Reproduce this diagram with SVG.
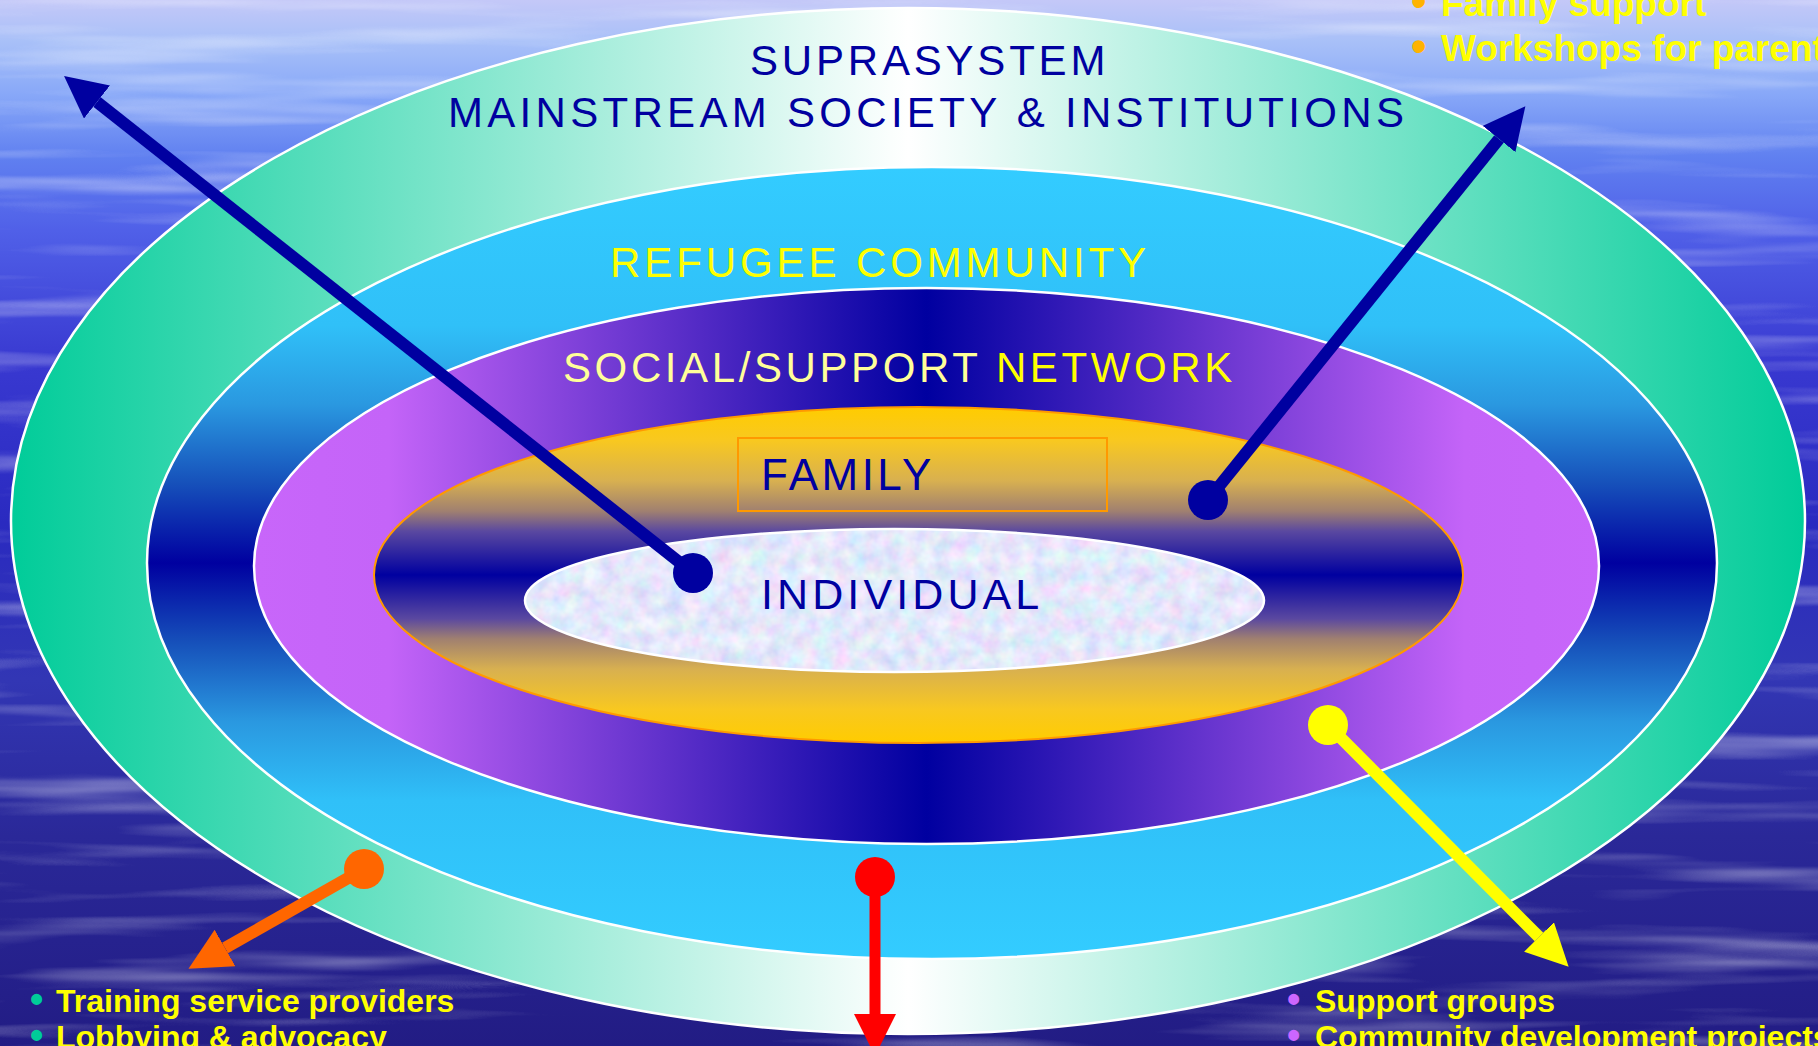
<svg xmlns="http://www.w3.org/2000/svg" width="1818" height="1046" viewBox="0 0 1818 1046">
  <style>
    .ring { stroke: #FFFFFF; stroke-width: 2.5; }
    .lbl { font-family: "Liberation Sans", Arial, sans-serif; }
    .blue { fill: #0000A0; }
    .bul { font-family: "Liberation Sans", Arial, sans-serif; font-weight: bold; fill: #FFFF00; }
    .shaft { fill: none; stroke-width: 12; stroke-linecap: butt; }
  </style>
  <defs>
    <linearGradient id="bg" x1="0" y1="0" x2="0" y2="1">
      <stop offset="0" stop-color="#C4C8F8"/>
      <stop offset="0.04" stop-color="#A8C0F8"/>
      <stop offset="0.09" stop-color="#88A8F8"/>
      <stop offset="0.15" stop-color="#6080F0"/>
      <stop offset="0.22" stop-color="#5060E8"/>
      <stop offset="0.35" stop-color="#3838D0"/>
      <stop offset="0.5" stop-color="#2A2AC0"/>
      <stop offset="0.65" stop-color="#3236B4"/>
      <stop offset="0.8" stop-color="#2A2898"/>
      <stop offset="1" stop-color="#221C84"/>
    </linearGradient>
    <filter id="streaks" x="0" y="0" width="1" height="1">
      <feTurbulence type="fractalNoise" baseFrequency="0.0025 0.04" numOctaves="3" seed="7"/>
      <feColorMatrix type="matrix" values="0 0 0 0 1  0 0 0 0 1  0 0 0 0 1  2.4 0 0 0 -1.2"/>
    </filter>
    <linearGradient id="gOuter" x1="0" y1="0" x2="1" y2="0">
      <stop offset="0" stop-color="#00CC99"/>
      <stop offset="0.5" stop-color="#FFFFFF"/>
      <stop offset="1" stop-color="#00CC99"/>
    </linearGradient>
    <linearGradient id="gRefugee" x1="0" y1="0" x2="0" y2="1">
      <stop offset="0" stop-color="#33CCFF"/>
      <stop offset="0.2" stop-color="#30C0F8"/>
      <stop offset="0.3" stop-color="#2A98E0"/>
      <stop offset="0.4" stop-color="#1650BA"/>
      <stop offset="0.5" stop-color="#0000A0"/>
      <stop offset="0.6" stop-color="#1650BA"/>
      <stop offset="0.7" stop-color="#2A98E0"/>
      <stop offset="0.8" stop-color="#30C0F8"/>
      <stop offset="1" stop-color="#33CCFF"/>
    </linearGradient>
    <linearGradient id="gSocial" x1="0" y1="0" x2="1" y2="0">
      <stop offset="0" stop-color="#C866FA"/>
      <stop offset="0.1" stop-color="#C464F8"/>
      <stop offset="0.5" stop-color="#0000A0"/>
      <stop offset="0.9" stop-color="#C464F8"/>
      <stop offset="1" stop-color="#C866FA"/>
    </linearGradient>
    <linearGradient id="gFamily" x1="0" y1="0" x2="0" y2="1">
      <stop offset="0" stop-color="#FFCC00"/>
      <stop offset="0.1" stop-color="#F8C820"/>
      <stop offset="0.22" stop-color="#D8B050"/>
      <stop offset="0.31" stop-color="#A08070"/>
      <stop offset="0.37" stop-color="#5A48A0"/>
      <stop offset="0.5" stop-color="#0000A0"/>
      <stop offset="0.63" stop-color="#5A48A0"/>
      <stop offset="0.69" stop-color="#A08070"/>
      <stop offset="0.78" stop-color="#D8B050"/>
      <stop offset="0.9" stop-color="#F8C820"/>
      <stop offset="1" stop-color="#FFCC00"/>
    </linearGradient>
    <filter id="tex" x="0" y="0" width="1" height="1">
      <feTurbulence type="fractalNoise" baseFrequency="0.06" numOctaves="3" seed="4"/>
      <feColorMatrix type="matrix" values="0.55 0 0 0 0.5  0 0.45 0 0 0.58  0 0 0.2 0 0.86  0 0 0 0 1"/>
      <feComposite in2="SourceGraphic" operator="in"/>
    </filter>
    <marker id="ahBlue" markerUnits="userSpaceOnUse" markerWidth="42" markerHeight="42" viewBox="0 -21 42 42" refX="0" refY="0" orient="auto">
      <path d="M0,-21 L42,0 L0,21 Z" fill="#0000A0"/>
    </marker>
    <marker id="ahYellow" markerUnits="userSpaceOnUse" markerWidth="42" markerHeight="42" viewBox="0 -21 42 42" refX="0" refY="0" orient="auto">
      <path d="M0,-21 L42,0 L0,21 Z" fill="#FFFF00"/>
    </marker>
    <marker id="ahRed" markerUnits="userSpaceOnUse" markerWidth="42" markerHeight="42" viewBox="0 -21 42 42" refX="0" refY="0" orient="auto">
      <path d="M0,-21 L42,0 L0,21 Z" fill="#FF0000"/>
    </marker>
    <marker id="ahOrange" markerUnits="userSpaceOnUse" markerWidth="42" markerHeight="42" viewBox="0 -21 42 42" refX="0" refY="0" orient="auto">
      <path d="M0,-21 L42,0 L0,21 Z" fill="#FF6600"/>
    </marker>
  </defs>

  <!-- background -->
  <rect x="0" y="0" width="1818" height="1046" fill="url(#bg)"/>
  <rect x="0" y="0" width="1818" height="1046" filter="url(#streaks)" opacity="0.45"/>

  <g id="suprasystem">
    <ellipse class="ring" cx="908" cy="521" rx="897" ry="513" fill="url(#gOuter)"/>
    <text class="lbl blue" x="750" y="75" style="font-size:42px;letter-spacing:3.8px">SUPRASYSTEM</text>
    <text class="lbl blue" x="448" y="127" style="font-size:42px;letter-spacing:4.3px">MAINSTREAM SOCIETY &amp; INSTITUTIONS</text>
  </g>

  <g id="refugee-community">
    <ellipse class="ring" cx="932" cy="563" rx="785" ry="396" fill="url(#gRefugee)"/>
    <text class="lbl" x="610" y="277" fill="#FFFF00" style="font-size:42px;letter-spacing:3.9px">REFUGEE COMMUNITY</text>
  </g>

  <g id="social-support-network">
    <ellipse class="ring" cx="926.5" cy="566" rx="672.5" ry="278" fill="url(#gSocial)"/>
    <text class="lbl" x="563" y="382" style="font-size:42px;letter-spacing:3.6px"><tspan fill="#FFFF99">SOCIAL/SUPPORT </tspan><tspan fill="#FFFF00">NETWORK</tspan></text>
  </g>

  <g id="family">
    <ellipse cx="918.5" cy="575" rx="544.5" ry="168" fill="url(#gFamily)" stroke="#FF9900" stroke-width="2"/>
    <rect x="738" y="438" width="369" height="73" fill="none" stroke="#FF9900" stroke-width="2"/>
    <text class="lbl blue" x="761" y="490" style="font-size:44px;letter-spacing:3.4px">FAMILY</text>
  </g>

  <g id="individual">
    <ellipse cx="894.5" cy="600.5" rx="369.5" ry="71.5" fill="#C4D4F8"/>
    <ellipse cx="894.5" cy="600.5" rx="369.5" ry="71.5" fill="#C4D4F8" filter="url(#tex)"/>
    <ellipse cx="894.5" cy="600.5" rx="369.5" ry="71.5" fill="none" stroke="#FFFFFF" stroke-width="2.5"/>
    <text class="lbl blue" x="761" y="609" style="font-size:43px;letter-spacing:4.1px">INDIVIDUAL</text>
  </g>

  <g id="connectors">
    <path class="shaft" d="M693,573 L97,102" stroke="#0000A0" marker-end="url(#ahBlue)"/>
    <circle cx="693" cy="573" r="20" fill="#0000A0"/>
    <path class="shaft" d="M1208,500 L1499,139" stroke="#0000A0" marker-end="url(#ahBlue)"/>
    <circle cx="1208" cy="500" r="20" fill="#0000A0"/>
    <path class="shaft" d="M1328,725 L1539,937" stroke="#FFFF00" marker-end="url(#ahYellow)"/>
    <circle cx="1328" cy="725" r="20" fill="#FFFF00"/>
    <path class="shaft" d="M875,877 L875,1014" stroke="#FF0000" style="stroke-width:11px" marker-end="url(#ahRed)"/>
    <circle cx="875" cy="877" r="20" fill="#FF0000"/>
    <path class="shaft" d="M364,869 L225,948" stroke="#FF6600" marker-end="url(#ahOrange)"/>
    <circle cx="364" cy="869" r="20" fill="#FF6600"/>
  </g>

  <g id="list-top-right">
    <text class="bul" x="1411" y="16" style="font-size:37px"><tspan fill="#FFB300" style="font-size:44px">•</tspan><tspan x="1441">Family support</tspan></text>
    <text class="bul" x="1411" y="61" style="font-size:37px"><tspan fill="#FFB300" style="font-size:44px">•</tspan><tspan x="1441">Workshops for parents</tspan></text>
  </g>

  <g id="list-bottom-left">
    <text class="bul" x="30" y="1012" style="font-size:32px"><tspan fill="#00CC99" style="font-size:38px">•</tspan><tspan x="56">Training service providers</tspan></text>
    <text class="bul" x="30" y="1048" style="font-size:32px"><tspan fill="#00CC99" style="font-size:38px">•</tspan><tspan x="56">Lobbying &amp; advocacy</tspan></text>
  </g>

  <g id="list-bottom-right">
    <text class="bul" x="1287" y="1012" style="font-size:32px"><tspan fill="#CC66FF" style="font-size:38px">•</tspan><tspan x="1315">Support groups</tspan></text>
    <text class="bul" x="1287" y="1048" style="font-size:32px"><tspan fill="#CC66FF" style="font-size:38px">•</tspan><tspan x="1315">Community development projects</tspan></text>
  </g>
</svg>
